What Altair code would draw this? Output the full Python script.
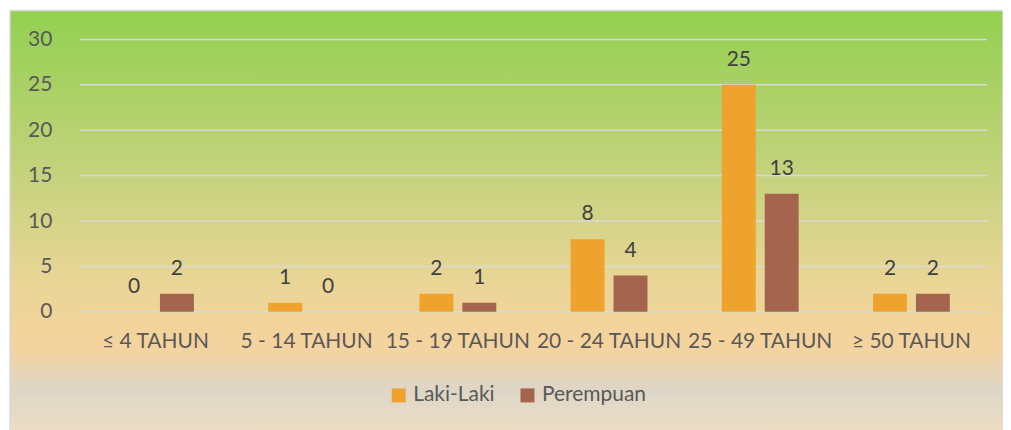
import altair as alt
import pandas as pd

categories = ["≤ 4 TAHUN", "5 - 14 TAHUN", "15 - 19 TAHUN", "20 - 24 TAHUN", "25 - 49 TAHUN", "≥ 50 TAHUN"]
laki = [0, 1, 2, 8, 25, 2]
perempuan = [2, 0, 1, 4, 13, 2]
series_names = ["Laki-Laki", "Perempuan"]
series_colors = ["#f0a22e", "#a5644e"]
y_ticks = [0, 5, 10, 15, 20, 25, 30]

rows = []
for c, a, b in zip(categories, laki, perempuan):
    rows.append({"cat": c, "series": series_names[0], "val": a})
    rows.append({"cat": c, "series": series_names[1], "val": b})
df = pd.DataFrame(rows)

FONT = "Lato"
FS = 21
W, H = 909, 273

x_enc = alt.X("cat:N", sort=categories, title=None,
              scale=alt.Scale(paddingInner=0, paddingOuter=0),
              axis=alt.Axis(labelAngle=0, labelFontSize=FS, labelColor="#595959", labelFont=FONT,
                            domain=False, ticks=False, grid=False, labelPadding=19, zindex=1))
xo_enc = alt.XOffset("series:N", sort=series_names,
                     scale=alt.Scale(paddingInner=0.209, paddingOuter=0.866))
y_scale = alt.Scale(domain=[0, 30], nice=False)

bg = alt.Chart(pd.DataFrame({"a": [0]})).mark_rect(
    fill=alt.Gradient(gradient="linear", x1=0, y1=0, x2=0, y2=1, stops=[
        alt.GradientStop(offset=0.0, color="#92d050"),
        alt.GradientStop(offset=0.35, color="#c1d27a"),
        alt.GradientStop(offset=0.62, color="#e9d596"),
        alt.GradientStop(offset=0.77, color="#f5d39e"),
        alt.GradientStop(offset=0.87, color="#ddd6c6"),
        alt.GradientStop(offset=1.0, color="#f3e0c3"),
    ]),
    stroke="#d9d9d9", strokeWidth=1.5,
).encode(x=alt.value(-70), x2=alt.value(W + 16), y=alt.value(-29), y2=alt.value(H + 135))

grid = alt.Chart(pd.DataFrame({"v": y_ticks})).mark_rule(color="#d9d9d9", strokeWidth=1.5).encode(
    y=alt.Y("v:Q", scale=y_scale, title=None,
            axis=alt.Axis(values=y_ticks, labelFontSize=FS, labelColor="#595959", labelFont=FONT,
                          domain=False, ticks=False, grid=False, labelPadding=28, zindex=1)),
)

bars = alt.Chart(df).mark_bar(size=34).encode(
    x=x_enc, xOffset=xo_enc,
    y=alt.Y("val:Q", scale=y_scale),
    color=alt.Color("series:N", sort=series_names,
                    scale=alt.Scale(domain=series_names, range=series_colors),
                    legend=alt.Legend(title=None, orient="none", legendX=309, legendY=346,
                                      direction="horizontal", symbolType="square", symbolSize=196,
                                      symbolStrokeWidth=0, labelFontSize=FS, labelFont=FONT,
                                      labelColor="#595959", labelOffset=4, columnPadding=22)),
)

labels = alt.Chart(df).mark_text(dy=-25, fontSize=FS, font=FONT, color="#404040", baseline="middle").encode(
    x=x_enc, xOffset=xo_enc,
    y=alt.Y("val:Q", scale=y_scale),
    text=alt.Text("val:Q"),
)

chart = alt.layer(bg, grid, bars, labels).properties(
    width=W, height=H,
    autosize=alt.AutoSizeParams(type="none"),
    padding={"left": 72, "top": 31, "right": 16, "bottom": 140},
).configure_view(stroke=None).configure(background="white")

chart.save("out.html", embed_options={"renderer": "svg", "actions": False})
